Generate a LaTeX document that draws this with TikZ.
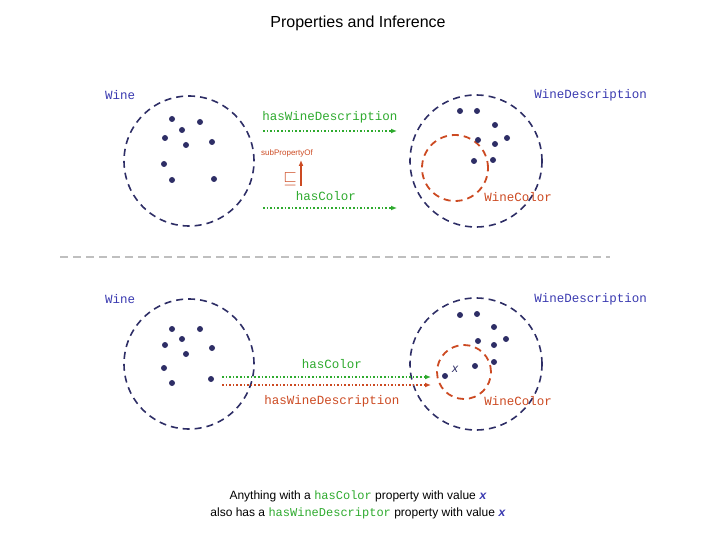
\documentclass[tikz,border=0pt]{standalone}
\usepackage{fontspec}
\usepackage{amssymb}
\usetikzlibrary{arrows.meta}
\setmainfont{Liberation Sans}
\setmonofont{Liberation Mono}
\definecolor{navy}{HTML}{2E2E66}
\definecolor{lblue}{HTML}{3A3AB0}
\definecolor{gr}{HTML}{2EAA2E}
\definecolor{orng}{HTML}{CC4A22}
\begin{document}
\begin{tikzpicture}[x=1pt,y=-1pt,
  cls/.style={draw=navy,line width=1.6pt,dash pattern=on 7pt off 5pt,circle},
  sub/.style={draw=orng,line width=1.8pt,dash pattern=on 7pt off 5pt,circle},
  dot/.style={fill=navy,circle,inner sep=0pt,minimum size=6pt},
  lab/.style={font=\ttfamily\fontsize{12.5}{14}\selectfont,inner sep=1pt},
  garr/.style={draw=gr,line width=1.6pt,dotted,-{Latex[length=6pt,width=5pt]}},
  rarr/.style={draw=orng,line width=1.6pt,dotted,-{Latex[length=6pt,width=5pt]}}]
\useasboundingbox (0,0) rectangle (720,540);
\node (title) at (358,23) {\fontsize{16}{18}\selectfont Properties and Inference};
% top
\node[cls,minimum size=130pt] (w1) at (189,161) {};
\node[cls,minimum size=132pt] (d1) at (476,161) {};
\node[sub,minimum size=66pt] (c1) at (455,168) {};
\node[lab,text=lblue,anchor=west] (wl1) at (104,95) {Wine};
\node[lab,text=lblue,anchor=east] (dl1) at (648,95) {WineDescription};
\node[lab,text=orng] (cl1) at (518,197) {WineColor};
\foreach \p [count=\i] in {(172,119),(182,130),(200,122),(165,138),(186,145),(212,142),(164,164),(172,180),(214,179)} \node[dot] (a\i) at \p {};
\foreach \p [count=\i] in {(460,111),(477,111),(495,125),(478,140),(495,144),(507,138),(474,161),(493,160)} \node[dot] (b\i) at \p {};
\coordinate (h1s) at (263,131); \coordinate (h1e) at (397,131);
\draw[garr] (h1s) -- (h1e);
\node[lab,text=gr] (hl1) at (330,117) {hasWineDescription};
\coordinate (h2s) at (263,208); \coordinate (h2e) at (397,208);
\draw[garr] (h2s) -- (h2e);
\node[lab,text=gr] (hl2) at (326,196) {hasColor};
\coordinate (us) at (301,186); \coordinate (ue) at (301,160);
\draw[draw=orng,line width=1.6pt,-{Latex[length=6pt,width=5pt]}] (us) -- (ue);
\node[text=orng,inner sep=0pt] (sq) at (290,179) {\fontsize{18}{18}\selectfont$\sqsubseteq$};
\node[text=orng,inner sep=0pt] (spo) at (287,153) {\fontsize{8}{9}\selectfont subPropertyOf};
% separator
\coordinate (s1) at (60,257); \coordinate (s2) at (610,257);
\draw[gray!50,line width=1.4pt,dash pattern=on 8pt off 5pt] (s1) -- (s2);
% bottom
\node[cls,minimum size=130pt] (w2) at (189,364) {};
\node[cls,minimum size=132pt] (d2) at (476,364) {};
\node[sub,minimum size=54pt] (c2) at (464,372) {};
\node[lab,text=lblue,anchor=west] (wl2) at (104,299) {Wine};
\node[lab,text=lblue,anchor=east] (dl2) at (648,299) {WineDescription};
\node[lab,text=orng] (cl2) at (518,401) {WineColor};
\foreach \p [count=\i] in {(172,329),(200,329),(182,339),(165,345),(212,348),(186,354),(164,368),(172,383),(211,379)} \node[dot] (e\i) at \p {};
\foreach \p [count=\i] in {(460,315),(477,314),(494,327),(478,341),(494,345),(506,339),(494,362),(475,366),(445,376)} \node[dot] (f\i) at \p {};
\node[font=\itshape\fontsize{12}{14}\selectfont,text=navy] (xl) at (455,369) {x};
\coordinate (g1s) at (222,377); \coordinate (g1e) at (431,377);
\draw[garr] (g1s) -- (g1e);
\coordinate (r1s) at (222,385); \coordinate (r1e) at (431,385);
\draw[rarr] (r1s) -- (r1e);
\node[lab,text=gr] (gl) at (332,364) {hasColor};
\node[lab,text=orng] (rl) at (332,401) {hasWineDescription};
\node[font=\fontsize{12}{17}\selectfont,align=center] (cap) at (358,505) {Anything with a \textcolor{gr}{\ttfamily hasColor} property with value \textcolor{lblue}{\ttfamily\bfseries\itshape x}\\also has a \textcolor{gr}{\ttfamily hasWineDescriptor} property with value \textcolor{lblue}{\ttfamily\bfseries\itshape x}};
\end{tikzpicture}
\end{document}
